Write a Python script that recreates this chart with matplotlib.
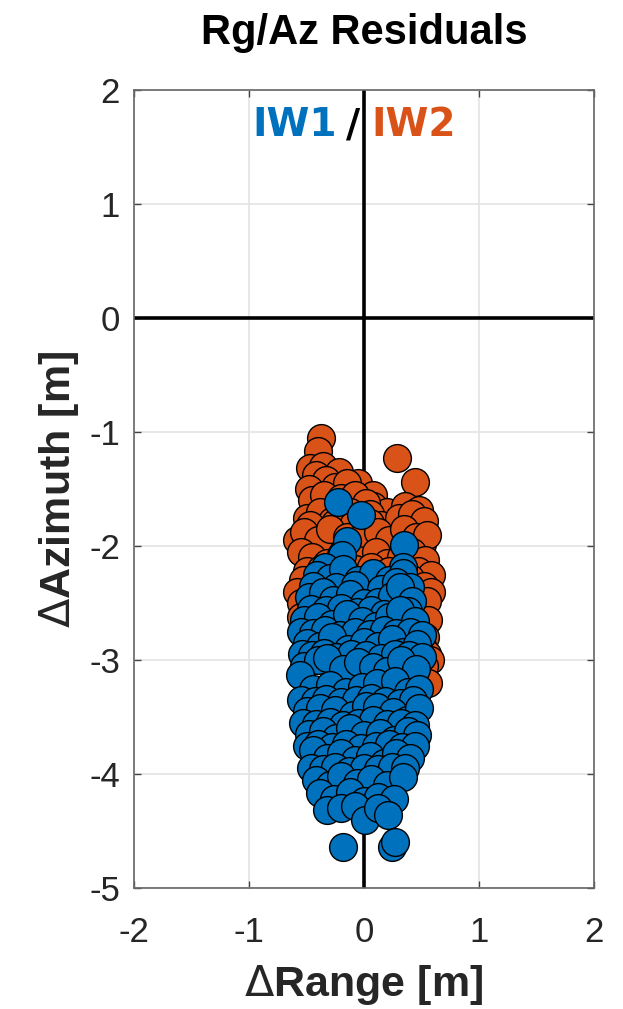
import matplotlib
matplotlib.use("Agg")
import matplotlib.pyplot as plt

plt.rcParams['axes.unicode_minus'] = False
plt.rcParams['mathtext.fontset'] = 'dejavusans'

# ---- data ----
title = "Rg/Az Residuals"
x_ticks = [-2, -1, 0, 1, 2]
y_ticks = [-5, -4, -3, -2, -1, 0, 1, 2]

# IW2 (orange) residuals: range [m], azimuth [m]
iw2_rg = [-0.37, -0.40, 0.29, 0.44,
          -0.47, -0.36, -0.22, -0.05, 0.08,
          -0.42, -0.33, -0.25, -0.15,
          -0.48, -0.35, -0.22, -0.08, 0.08, 0.20, 0.36, 0.48,
          -0.45, -0.35, -0.20, -0.08, 0.02,
          -0.50, -0.38, -0.28, -0.12, 0.05, 0.15, 0.30, 0.42, 0.52,
          -0.58, -0.47, -0.36, -0.25, -0.10, 0.05, 0.18, 0.28, 0.40, 0.50,
          -0.52, -0.40, -0.30, -0.15, 0.00, 0.12, 0.22, 0.35, 0.45, 0.55,
          -0.55, -0.45, -0.32, -0.20, -0.05, 0.10, 0.20, 0.32, 0.42, 0.53,
          -0.50, -0.37, -0.25, -0.08, 0.06, 0.22, 0.35, 0.47, 0.58,
          -0.53, -0.42, -0.30, -0.15, 0.00, 0.15, 0.28, 0.40, 0.52,
          -0.58, -0.48, 0.50, 0.58,
          -0.55, -0.45, -0.10, 0.10, 0.45, 0.55,
          -0.55, -0.48, 0.48, 0.56,
          0.53, 0.50, 0.55, 0.57,
          0.52, 0.56]
iw2_az = [-1.05, -1.17, -1.23, -1.44,
          -1.32, -1.30, -1.35, -1.45, -1.55,
          -1.38, -1.42, -1.48, -1.45,
          -1.50, -1.65, -1.62, -1.65, -1.65, -1.70, -1.65, -1.68,
          -1.60, -1.55, -1.58, -1.55, -1.62,
          -1.75, -1.70, -1.78, -1.70, -1.72, -1.82, -1.75, -1.72, -1.78,
          -1.95, -1.82, -1.98, -1.80, -1.82, -1.80, -1.96, -2.00, -2.00, -1.98,
          -1.88, -1.95, -1.85, -1.92, -1.90, -1.88, -1.95, -1.85, -1.92, -1.90,
          -2.05, -2.10, -2.15, -2.08, -2.12, -2.05, -2.15, -2.10, -2.05, -2.12,
          -2.22, -2.20, -2.25, -2.20, -2.18, -2.22, -2.20, -2.22, -2.25,
          -2.30, -2.35, -2.28, -2.32, -2.30, -2.35, -2.30, -2.28, -2.35,
          -2.40, -2.65, -2.58, -2.40,
          -2.50, -2.55, -2.45, -2.50, -2.52, -2.48,
          -2.62, -2.78, -2.70, -2.65,
          -2.80, -2.88, -2.95, -3.00,
          -3.05, -3.20]

# IW1 (blue) residuals: range [m], azimuth [m]
iw1_rg = [-0.23, -0.03, -0.15, -0.19, 0.35, -0.34, 0.34,
          -0.41, -0.30, -0.18, -0.05, 0.08, 0.22, 0.34,
          -0.44, -0.24, -0.08, 0.15, 0.28, 0.40,
          -0.48, -0.36, -0.27, -0.12, 0.00, 0.12, 0.24, 0.31, 0.42,
          -0.46, -0.33, -0.20, -0.06, 0.06, 0.17, 0.38,
          -0.52, -0.40, -0.28, -0.15, -0.02, 0.10, 0.22, 0.31, 0.44,
          -0.55, -0.44, -0.34, -0.21, -0.08, 0.05, 0.17, 0.28, 0.40, 0.50,
          -0.50, -0.38, -0.28, -0.14, 0.00, 0.12, 0.24, 0.34, 0.46,
          -0.54, -0.45, -0.35, -0.24, -0.11, 0.02, 0.15, 0.27, 0.39, 0.50,
          -0.52, -0.40, -0.32, -0.18, -0.05, 0.08, 0.20, 0.32, 0.45,
          -0.56, -0.44, -0.30, -0.16, -0.02, 0.11, 0.27, 0.38, 0.48,
          -0.55, -0.43, -0.33, -0.20, -0.07, 0.06, 0.18, 0.31, 0.43,
          -0.50, -0.38, -0.25, -0.10, 0.02, 0.11, 0.25, 0.37, 0.48,
          -0.53, -0.42, -0.30, -0.18, -0.05, 0.08, 0.20, 0.32, 0.44,
          -0.48, -0.36, -0.24, -0.12, 0.00, 0.14, 0.26, 0.38, 0.46,
          -0.50, -0.40, -0.28, -0.16, -0.03, 0.10, 0.22, 0.33, 0.44,
          -0.44, -0.32, -0.20, -0.08, 0.05, 0.17, 0.28, 0.40,
          -0.46, -0.36, -0.25, -0.13, 0.00, 0.12, 0.24, 0.36,
          -0.42, -0.30, -0.20, -0.06, 0.06, 0.20, 0.34,
          -0.38, -0.26, -0.12, 0.00, 0.12, 0.26,
          -0.32, -0.20, -0.08, 0.01, 0.12, 0.21,
          -0.18, 0.24, 0.27]
iw1_az = [-1.61, -1.73, -1.96, -2.08, -1.99, -2.18, -2.18,
          -2.25, -2.28, -2.20, -2.30, -2.24, -2.30, -2.24,
          -2.35, -2.36, -2.34, -2.38, -2.32, -2.36,
          -2.45, -2.40, -2.47, -2.42, -2.50, -2.49, -2.44, -2.36, -2.48,
          -2.55, -2.56, -2.54, -2.58, -2.56, -2.60, -2.57,
          -2.65, -2.62, -2.68, -2.60, -2.66, -2.70, -2.62, -2.56, -2.66,
          -2.75, -2.76, -2.74, -2.78, -2.75, -2.77, -2.74, -2.76, -2.75, -2.78,
          -2.85, -2.88, -2.80, -2.90, -2.84, -2.88, -2.82, -2.93, -2.86,
          -2.95, -2.96, -2.94, -2.97, -2.95, -2.96, -2.98, -2.95, -2.96, -2.97,
          -3.05, -3.00, -2.98, -3.08, -3.02, -3.06, -3.10, -3.00, -3.08,
          -3.13, -3.25, -3.22, -3.28, -3.24, -3.20, -3.18, -3.28, -3.25,
          -3.35, -3.36, -3.34, -3.37, -3.35, -3.33, -3.36, -3.38, -3.35,
          -3.45, -3.42, -3.44, -3.48, -3.40, -3.41, -3.46, -3.53, -3.42,
          -3.55, -3.56, -3.54, -3.57, -3.55, -3.53, -3.56, -3.55, -3.57,
          -3.65, -3.62, -3.68, -3.60, -3.66, -3.64, -3.70, -3.62, -3.66,
          -3.75, -3.74, -3.76, -3.74, -3.77, -3.75, -3.74, -3.76, -3.75,
          -3.79, -3.86, -3.82, -3.88, -3.84, -3.90, -3.82, -3.86,
          -3.95, -3.96, -3.94, -3.97, -3.95, -3.96, -3.94, -3.95,
          -4.05, -4.10, -4.02, -4.08, -4.04, -4.10, -4.03,
          -4.17, -4.22, -4.16, -4.24, -4.20, -4.22,
          -4.32, -4.30, -4.28, -4.40, -4.30, -4.36,
          -4.64, -4.64, -4.60]

blue = '#0072BD'
orange = '#D95319'

fig = plt.figure(figsize=(6.23, 10.09), dpi=100)
ax = fig.add_axes([134/623, 1 - 888/1009, 460/623, 798/1009])

ax.set_xlim(-2, 2)
ax.set_ylim(-5, 2)
ax.set_xticks(x_ticks)
ax.set_yticks(y_ticks)
ax.grid(True, color='#e3e3e3', linewidth=1.2, zorder=0)
ax.set_axisbelow(True)

ax.axhline(0, color='black', linewidth=2.6, zorder=1)
ax.axvline(0, color='black', linewidth=2.6, zorder=1)

ax.scatter(iw2_rg, iw2_az, s=400, c=orange, edgecolors='black', linewidths=1.0, zorder=2)
ax.scatter(iw1_rg, iw1_az, s=400, c=blue, edgecolors='black', linewidths=1.0, zorder=3)

tick_font = dict(family='Liberation Sans', size=25)
ax.set_xticklabels([str(v) for v in x_ticks], **tick_font, color='#262626')
ax.set_yticklabels([str(v) for v in y_ticks], **tick_font, color='#262626')
ax.tick_params(axis='x', direction='in', length=5, width=1, color='#444444', pad=20, top=True)
ax.tick_params(axis='y', direction='in', length=5, width=1, color='#444444', pad=10, right=True)
for sp in ax.spines.values():
    sp.set_color('#666666')
    sp.set_linewidth(1.2)

ax.set_title(title, fontfamily='Liberation Sans', fontweight='bold', fontsize=30, pad=33)
ax.set_xlabel(r'$\Delta$Range [m]', fontfamily='Liberation Sans', fontweight='bold', fontsize=31,
              color='#262626', labelpad=10)
ax.set_ylabel(r'$\Delta$Azimuth [m]', fontfamily='Liberation Sans', fontweight='bold', fontsize=31,
              color='#262626', labelpad=6)

lab = dict(fontfamily='DejaVu Sans', fontweight='bold', fontsize=28, va='center', zorder=4)
ax.text(-0.24, 1.69, 'IW1', color=blue, ha='right', **lab)
ax.text(-0.095, 1.69, '/', color='black', ha='center', **lab)
ax.text(0.06, 1.69, 'IW2', color=orange, ha='left', **lab)

fig.savefig('out.png', dpi=100)
